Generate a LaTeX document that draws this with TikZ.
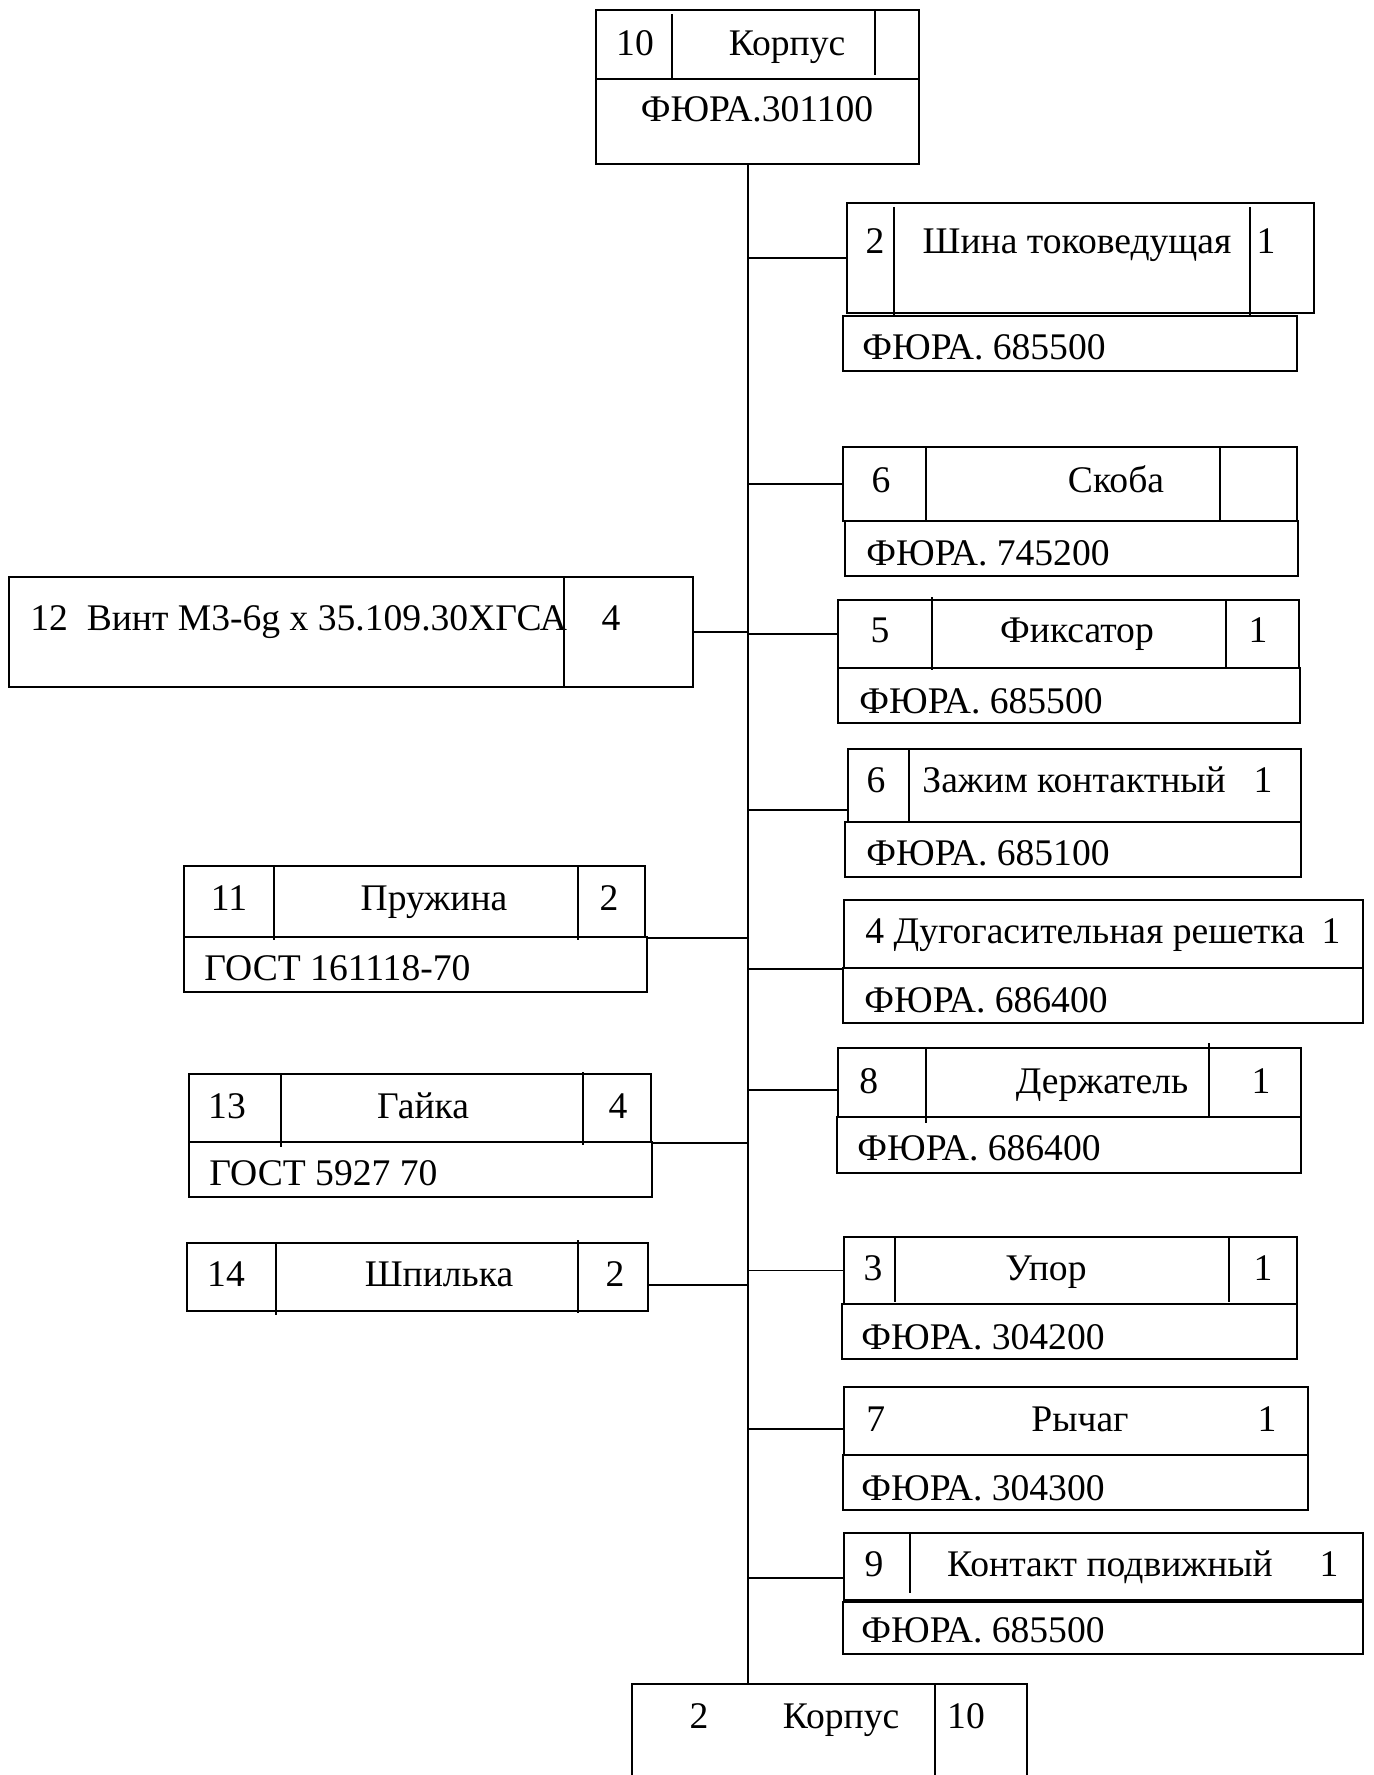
\documentclass[tikz,border=0pt]{standalone}
\usepackage{fontspec}
\setmainfont{Liberation Serif}
\usetikzlibrary{fit}

\tikzset{
  box/.style={draw, line width=0.7pt, inner sep=0pt},
  sep/.style={line width=0.9pt},
  link/.style={line width=0.9pt},
  lbl/.style={inner sep=0pt, anchor=base, font=\fontsize{18.8}{22}\selectfont},
  lblw/.style={lbl, anchor=base west},
}

\begin{document}
\begin{tikzpicture}[x=0.5pt, y=-0.5pt]
\useasboundingbox (0,0) rectangle (1373,1775);
\clip (0,0) rectangle (1373,1775);

% assembly
\node[box, fit={(596,10) (919,164)}] (korpus) {};
\draw[sep] (596,79) -- (919,79);
\draw[sep] (672,14) -- (672,79);
\draw[sep] (875,11) -- (875,75);
\node[lbl] (korpusPos) at (635,56) {10};
\node[lbl] (korpusName) at (787,56) {Корпус};
\node[lbl] (korpusKod) at (757,122) {ФЮРА.301100};
\coordinate (trunk) at (748,164);

% right column
\node[box, fit={(847,203) (1314,313)}] (shina) {};
\node[box, fit={(843,316) (1297,371)}] (shinaKod) {};
\draw[sep] (894,207) -- (894,316);
\draw[sep] (1250,207) -- (1250,316);
\node[lbl] (shinaPos) at (875,254) {2};
\node[lbl] (shinaName) at (1077,254) {Шина токоведущая};
\node[lbl] (shinaQty) at (1266,254) {1};
\node[lblw] (shinaKodTxt) at (862,360) {ФЮРА. 685500};

\node[box, fit={(843,447) (1297,521)}] (skoba) {};
\node[box, fit={(845,521) (1298,576)}] (skobaKod) {};
\draw[sep] (926,447) -- (926,521);
\draw[sep] (1220,447) -- (1220,521);
\node[lbl] (skobaPos) at (881,492) {6};
\node[lbl] (skobaName) at (1116,492) {Скоба};
\node[lblw] (skobaKodTxt) at (866,565) {ФЮРА. 745200};

\node[box, fit={(838,600) (1299,668)}] (fiksator) {};
\node[box, fit={(838,668) (1300,723)}] (fiksatorKod) {};
\draw[sep] (932,597) -- (932,670);
\draw[sep] (1226,600) -- (1226,668);
\node[lbl] (fiksatorPos) at (880,642) {5};
\node[lbl] (fiksatorName) at (1077,642) {Фиксатор};
\node[lbl] (fiksatorQty) at (1258,642) {1};
\node[lblw] (fiksatorKodTxt) at (859,713) {ФЮРА. 685500};

\node[box, fit={(848,749) (1301,822)}] (zazhim) {};
\node[box, fit={(845,822) (1301,877)}] (zazhimKod) {};
\draw[sep] (909,749) -- (909,822);
\node[lbl] (zazhimPos) at (876,792) {6};
\node[lblw] (zazhimName) at (922,792) {Зажим контактный};
\node[lbl] (zazhimQty) at (1263,792) {1};
\node[lblw] (zazhimKodTxt) at (866,865) {ФЮРА. 685100};
\coordinate (zazhimIn) at (848,810);

\node[box, fit={(844,900) (1363,968)}] (dugo) {};
\node[box, fit={(843,968) (1363,1023)}] (dugoKod) {};
\node[lblw] (dugoName) at (865,943) {4 Дугогасительная решетка};
\node[lbl] (dugoQty) at (1331,943) {1};
\node[lblw] (dugoKodTxt) at (864,1012) {ФЮРА. 686400};

\node[box, fit={(838,1048) (1301,1117)}] (derzh) {};
\node[box, fit={(837,1117) (1301,1173)}] (derzhKod) {};
\draw[sep] (926,1048) -- (926,1123);
\draw[sep] (1209,1043) -- (1209,1117);
\node[lblw] (derzhPos) at (859,1093) {8};
\node[lbl] (derzhName) at (1102,1093) {Держатель};
\node[lbl] (derzhQty) at (1261,1093) {1};
\node[lblw] (derzhKodTxt) at (857,1160) {ФЮРА. 686400};
\coordinate (derzhIn) at (838,1090);

\node[box, fit={(844,1237) (1297,1304)}] (upor) {};
\node[box, fit={(842,1304) (1297,1359)}] (uporKod) {};
\draw[sep] (895,1237) -- (895,1302);
\draw[sep] (1229,1237) -- (1229,1302);
\node[lbl] (uporPos) at (873,1280) {3};
\node[lbl] (uporName) at (1046,1280) {Упор};
\node[lbl] (uporQty) at (1263,1280) {1};
\node[lblw] (uporKodTxt) at (861,1349) {ФЮРА. 304200};

\node[box, fit={(844,1387) (1308,1455)}] (rychag) {};
\node[box, fit={(843,1455) (1308,1510)}] (rychagKod) {};
\node[lblw] (rychagPos) at (866,1431) {7};
\node[lbl] (rychagName) at (1080,1431) {Рычаг};
\node[lbl] (rychagQty) at (1267,1431) {1};
\node[lblw] (rychagKodTxt) at (861,1500) {ФЮРА. 304300};
\coordinate (rychagIn) at (844,1429);

\node[box, fit={(844,1533) (1363,1600)}] (kontakt) {};
\node[box, fit={(843,1602) (1363,1654)}] (kontaktKod) {};
\draw[sep] (910,1533) -- (910,1593);
\node[lbl] (kontaktPos) at (874,1576) {9};
\node[lbl] (kontaktName) at (1110,1576) {Контакт подвижный};
\node[lbl] (kontaktQty) at (1329,1576) {1};
\node[lblw] (kontaktKodTxt) at (861,1642) {ФЮРА. 685500};
\coordinate (kontaktIn) at (844,1578);

% left column
\node[box, fit={(9,577) (693,687)}] (vint) {};
\draw[sep] (564,576) -- (564,687);
\node[lblw] (vintName) at (30,630) {12\ \ Винт М3-6g x 35.109.30ХГСА};
\node[lbl] (vintQty) at (611,630) {4};

\node[box, fit={(184,866) (645,937)}] (pruzhina) {};
\node[box, fit={(184,937) (647,992)}] (pruzhinaGost) {};
\draw[sep] (274,866) -- (274,940);
\draw[sep] (578,866) -- (578,940);
\node[lbl] (pruzhinaPos) at (229,910) {11};
\node[lbl] (pruzhinaName) at (434,910) {Пружина};
\node[lbl] (pruzhinaQty) at (609,910) {2};
\node[lblw] (pruzhinaGostTxt) at (204,980) {ГОСТ 161118-70};

\node[box, fit={(189,1074) (651,1142)}] (gajka) {};
\node[box, fit={(189,1142) (652,1197)}] (gajkaGost) {};
\draw[sep] (281,1074) -- (281,1147);
\draw[sep] (583,1072) -- (583,1145);
\node[lbl] (gajkaPos) at (227,1118) {13};
\node[lbl] (gajkaName) at (423,1118) {Гайка};
\node[lbl] (gajkaQty) at (618,1118) {4};
\node[lblw] (gajkaGostTxt) at (209,1185) {ГОСТ 5927 70};

\node[box, fit={(187,1243) (648,1311)}] (shpilka) {};
\draw[sep] (276,1243) -- (276,1315);
\draw[sep] (578,1240) -- (578,1313);
\node[lbl] (shpilkaPos) at (226,1286) {14};
\node[lbl] (shpilkaName) at (439,1286) {Шпилька};
\node[lbl] (shpilkaQty) at (615,1286) {2};
\coordinate (shpilkaOut) at (648,1285);

% final assembly
\node[box, fit={(632,1684) (1027,1800)}] (korpusBot) {};
\draw[sep] (935,1684) -- (935,1800);
\node[lbl] (korpusBotPos) at (699,1728) {2};
\node[lbl] (korpusBotName) at (841,1728) {Корпус};
\node[lbl] (korpusBotQty) at (966,1728) {10};

% links
\draw[link] (korpus.south -| trunk) -- (korpusBot.north -| trunk);
\draw[link] (shina.west -| trunk) -- (shina.west);
\draw[link] (skoba.west -| trunk) -- (skoba.west);
\draw[link] (fiksator.west -| trunk) -- (fiksator.west);
\draw[link] (zazhimIn -| trunk) -- (zazhimIn);
\draw[link] (dugo.south west -| trunk) -- (dugo.south west);
\draw[link] (derzhIn -| trunk) -- (derzhIn);
\draw[link] (upor.west -| trunk) -- (upor.west);
\draw[link] (rychagIn -| trunk) -- (rychagIn);
\draw[link] (kontaktIn -| trunk) -- (kontaktIn);
\draw[link] (vint.east) -- (vint.east -| trunk);
\draw[link] (pruzhina.south east) -- (pruzhina.south east -| trunk);
\draw[link] (gajka.south east) -- (gajka.south east -| trunk);
\draw[link] (shpilkaOut) -- (shpilkaOut -| trunk);
\end{tikzpicture}
\end{document}
